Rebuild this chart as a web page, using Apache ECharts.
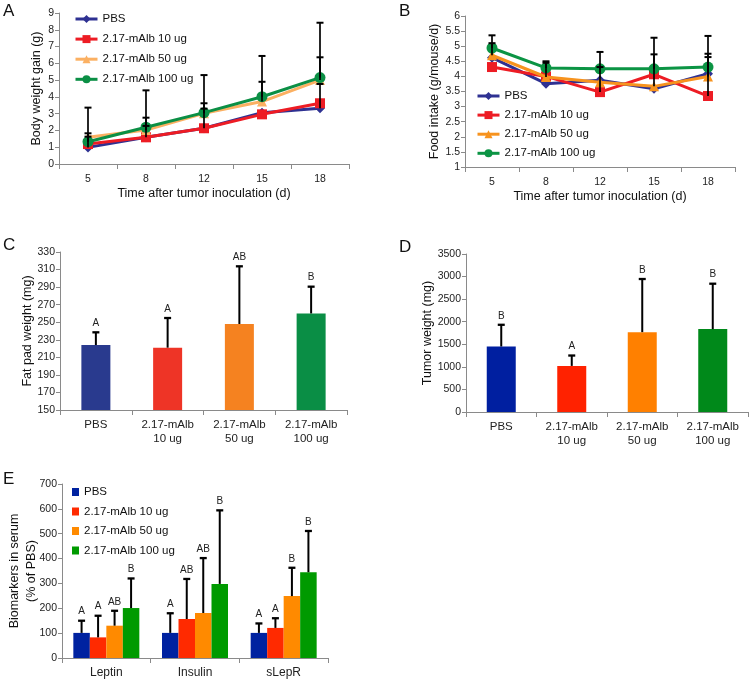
<!DOCTYPE html>
<html>
<head>
<meta charset="utf-8">
<script src="https://cdn.jsdelivr.net/npm/echarts@6/dist/echarts.min.js"></script>
<style>
html,body{margin:0;padding:0;background:#fff;}
#chart{width:751px;height:682px;}
</style>
</head>
<body>
<div id="chart"></div>
<script>
// ---------- data ----------
const days = ['5', '8', '12', '15', '18'];
const groupNames = ['PBS', '2.17-mAlb 10 ug', '2.17-mAlb 50 ug', '2.17-mAlb 100 ug'];
const barCats = ['PBS', '2.17-mAlb\n10 ug', '2.17-mAlb\n50 ug', '2.17-mAlb\n100 ug'];

// Panel A: body weight gain (g)
const gainPBS = [0.99, 1.59, 2.13, 3.06, 3.32];
const gain10 = [1.19, 1.59, 2.13, 2.96, 3.62];
const gain50 = [1.59, 2.03, 3.02, 3.72, 5.0];
const gain100 = [1.33, 2.19, 3.06, 4.01, 5.15];
const gainUpPBS = [1.63, 2.27, 3.3, null, 4.77];
const gainUp50 = [1.83, 2.76, 3.62, 4.9, 6.36];
const gainUp100 = [3.36, 4.39, 5.3, 6.44, 8.42];

// Panel B: food intake (g/mouse/d)
const foodPBS = [4.62, 3.76, 3.87, 3.59, 4.09];
const food10 = [4.31, 4.0, 3.48, 4.07, 3.35];
const food50 = [4.7, 3.98, 3.81, 3.67, 4.0];
const food100 = [4.94, 4.28, 4.25, 4.25, 4.31];
const foodUp10 = [null, null, 4.31, null, 4.64];
const foodUp50 = [5.1, 4.45, null, 4.73, 4.75];
const foodUp100 = [5.36, 4.5, 4.81, 5.28, 5.34];

// Panel C: fat pad weight (mg)
const fatMean = [224, 221, 248, 260];
const fatUp = [238.5, 254.8, 313.7, 290.5];
const fatLetters = ['A', 'A', 'AB', 'B'];

// Panel D: tumor weight (mg)
const tumorMean = [1451, 1021, 1769, 1836];
const tumorUp = [1932, 1251, 2946, 2842];
const tumorLetters = ['B', 'A', 'B', 'B'];

// Panel E: biomarkers (% of PBS)
const markers = ['Leptin', 'Insulin', 'sLepR'];
const bioPBS = [101, 101, 101];
const bio10 = [83, 157, 121];
const bio50 = [130, 181, 249];
const bio100 = [201, 298, 345];
const bioUpPBS = [150, 180, 139];
const bioUp10 = [170, 318, 160];
const bioUp50 = [190, 402, 363];
const bioUp100 = [320, 594, 511];
const bioLetPBS = ['A', 'A', 'A'];
const bioLet10 = ['A', 'AB', 'A'];
const bioLet50 = ['AB', 'AB', 'B'];
const bioLet100 = ['B', 'B', 'B'];

// ---------- styles ----------
const FONT = '"Liberation Sans", Arial, Helvetica, sans-serif';
const colA = ['#2E3192', '#ED1C24', '#FBB062', '#0B8F45'];
const colB = ['#2E3192', '#ED1C24', '#F7931E', '#0B9444'];
const colC = ['#293A8E', '#EE3426', '#F58220', '#0A8E45'];
const colD = ['#001FA0', '#FF2200', '#FF8000', '#00891A'];
const colE = ['#0022A0', '#FF2A00', '#FF8A00', '#009A00'];
const symbols = ['diamond', 'rect', 'triangle', 'circle'];
const symSizes = [10, 10, 10, 11];

const axisLineStyle = {lineStyle: {color: '#8a8a8a', width: 1}};
const tickStyle = {show: true, length: 4, lineStyle: {color: '#8a8a8a'}};
const tickLabel = {color: '#222', fontSize: 10.5, fontFamily: FONT, formatter: v => String(v)};
const nameStyle = {color: '#111', fontSize: 12.5, fontFamily: FONT};

function catAxis(gridIndex, data, labelSize, name, extra) {
  return Object.assign({
    type: 'category', gridIndex, data, boundaryGap: true,
    axisLine: axisLineStyle,
    axisTick: Object.assign({}, tickStyle, {length: 5, alignWithLabel: false}),
    axisLabel: {color: '#222', fontSize: labelSize, fontFamily: FONT, margin: 8, lineHeight: 14, interval: 0},
    splitLine: {show: false},
    name: name || '', nameLocation: 'middle', nameGap: 22, nameTextStyle: nameStyle
  }, extra || {});
}
function valAxis(gridIndex, min, max, interval, name, nameGap, extra) {
  return Object.assign({
    type: 'value', gridIndex, min, max, interval,
    axisLine: Object.assign({show: true}, axisLineStyle),
    axisTick: tickStyle,
    axisLabel: Object.assign({margin: 5}, tickLabel),
    splitLine: {show: false},
    name, nameLocation: 'middle', nameGap, nameTextStyle: nameStyle
  }, extra || {});
}

function lineSeries(name, data, i, axisIdx, colors) {
  return {
    type: 'line', name, data, xAxisIndex: axisIdx, yAxisIndex: axisIdx,
    symbol: symbols[i], symbolSize: symSizes[i], showSymbol: true,
    lineStyle: {color: colors[i], width: 3},
    itemStyle: {color: colors[i]},
    z: 2 + i, silent: true, animation: false
  };
}

function errSeries(axisIdx, means, uppers, letters, offset, cap, lw, letterSize) {
  const data = [];
  means.forEach((m, i) => { if (uppers[i] != null) data.push([i, m, uppers[i]]); });
  return {
    type: 'custom', xAxisIndex: axisIdx, yAxisIndex: axisIdx, silent: true, animation: false, z: 10,
    encode: {x: 0, y: [1, 2]},
    data,
    renderItem: function (params, api) {
      const i = api.value(0);
      const b = api.coord([i, api.value(1)]);
      const t = api.coord([i, api.value(2)]);
      const x = b[0] + offset;
      const children = [
        {type: 'line', shape: {x1: x, y1: b[1], x2: x, y2: t[1]}, style: {stroke: '#000', lineWidth: lw}},
        {type: 'line', shape: {x1: x - cap, y1: t[1], x2: x + cap, y2: t[1]}, style: {stroke: '#000', lineWidth: lw + 0.3}}
      ];
      if (letters) {
        children.push({type: 'text', x: x, y: t[1] - 4,
          style: {text: letters[i], fill: '#222', font: letterSize + 'px ' + FONT, align: 'center', verticalAlign: 'bottom'}});
      }
      return {type: 'group', children};
    }
  };
}

function barSeries(name, data, color, axisIdx, width, gap) {
  return {
    type: 'bar', name, data, xAxisIndex: axisIdx, yAxisIndex: axisIdx,
    barWidth: width, barGap: gap || '0%',
    itemStyle: {color}, silent: true, animation: false, z: 2
  };
}

function colorBars(vals, cols) {
  return vals.map((v, i) => ({value: v, itemStyle: {color: cols[i]}}));
}

const legendText = {color: '#111', fontSize: 11.5, fontFamily: FONT};

const option = {
  backgroundColor: '#fff',
  animation: false,
  textStyle: {fontFamily: FONT},
  grid: [
    {left: 59, top: 13, width: 290, height: 151},
    {left: 465, top: 16, width: 270, height: 151},
    {left: 60, top: 252, width: 287, height: 158},
    {left: 466, top: 254, width: 282, height: 158},
    {left: 62, top: 484, width: 266, height: 174}
  ],
  xAxis: [
    catAxis(0, days, 10.5, 'Time after tumor inoculation (d)'),
    catAxis(1, days, 10.5, 'Time after tumor inoculation (d)'),
    catAxis(2, barCats, 11.5, ''),
    catAxis(3, barCats, 11.5, ''),
    catAxis(4, markers, 12, '')
  ],
  yAxis: [
    valAxis(0, 0, 9, 1, 'Body weight gain (g)', 16),
    valAxis(1, 1, 6, 0.5, 'Food intake (g/mouse/d)', 22),
    valAxis(2, 150, 330, 20, 'Fat pad weight (mg)', 26),
    valAxis(3, 0, 3500, 500, 'Tumor weight (mg)', 28),
    valAxis(4, 0, 700, 100, 'Biomarkers in serum\n(% of PBS)', 22,
      {nameMoveOverlap: false, nameTextStyle: Object.assign({}, nameStyle, {lineHeight: 17})})
  ],
  legend: [
    {
      orient: 'vertical', left: 74, top: 13, padding: 0, itemWidth: 22, itemHeight: 10, itemGap: 8.1,
      textStyle: legendText, selectedMode: false,
      data: groupNames.map((n, i) => ({name: n, itemStyle: {color: colA[i]}, lineStyle: {color: colA[i], width: 3}}))
    },
    {
      orient: 'vertical', left: 476, top: 90, padding: 0, itemWidth: 22, itemHeight: 10, itemGap: 7.1,
      textStyle: legendText, selectedMode: false,
      data: groupNames.map((n, i) => ({name: n, itemStyle: {color: colB[i]}, lineStyle: {color: colB[i], width: 3}}))
    },
    {
      orient: 'vertical', left: 72, top: 486, padding: 0, itemWidth: 7, itemHeight: 8, itemGap: 7.5,
      textStyle: legendText, selectedMode: false, icon: 'rect',
      data: groupNames.map((n, i) => ({name: n, icon: 'rect', itemStyle: {color: colE[i]}}))
    }
  ],
  graphic: [
    {type: 'text', left: 3, top: 3, style: {text: 'A', font: '17px ' + FONT, fill: '#111'}},
    {type: 'text', left: 399, top: 3, style: {text: 'B', font: '17px ' + FONT, fill: '#111'}},
    {type: 'text', left: 3, top: 237, style: {text: 'C', font: '17px ' + FONT, fill: '#111'}},
    {type: 'text', left: 399, top: 239, style: {text: 'D', font: '17px ' + FONT, fill: '#111'}},
    {type: 'text', left: 3, top: 471, style: {text: 'E', font: '17px ' + FONT, fill: '#111'}}
  ],
  series: [
    // Panel A
    lineSeries(groupNames[0], gainPBS, 0, 0, colA),
    lineSeries(groupNames[1], gain10, 1, 0, colA),
    lineSeries(groupNames[2], gain50, 2, 0, colA),
    lineSeries(groupNames[3], gain100, 3, 0, colA),
    errSeries(0, gainPBS, gainUpPBS, null, 0, 3.5, 1.7, 10),
    errSeries(0, gain50, gainUp50, null, 0, 3.5, 1.7, 10),
    errSeries(0, gain100, gainUp100, null, 0, 3.5, 1.7, 10),
    // Panel B
    lineSeries(groupNames[0], foodPBS, 0, 1, colB),
    lineSeries(groupNames[1], food10, 1, 1, colB),
    lineSeries(groupNames[2], food50, 2, 1, colB),
    lineSeries(groupNames[3], food100, 3, 1, colB),
    errSeries(1, food10, foodUp10, null, 0, 3.5, 1.7, 10),
    errSeries(1, food50, foodUp50, null, 0, 3.5, 1.7, 10),
    errSeries(1, food100, foodUp100, null, 0, 3.5, 1.7, 10),
    // Panel C
    {type: 'bar', xAxisIndex: 2, yAxisIndex: 2, barWidth: 29, data: colorBars(fatMean, colC), silent: true, animation: false},
    errSeries(2, fatMean, fatUp, fatLetters, 0, 3.5, 2, 10),
    // Panel D
    {type: 'bar', xAxisIndex: 3, yAxisIndex: 3, barWidth: 29, data: colorBars(tumorMean, colD), silent: true, animation: false},
    errSeries(3, tumorMean, tumorUp, tumorLetters, 0, 3.5, 2, 10),
    // Panel E
    barSeries(groupNames[0], bioPBS, colE[0], 4, 16.5),
    barSeries(groupNames[1], bio10, colE[1], 4, 16.5),
    barSeries(groupNames[2], bio50, colE[2], 4, 16.5),
    barSeries(groupNames[3], bio100, colE[3], 4, 16.5),
    errSeries(4, bioPBS, bioUpPBS, bioLetPBS, -24.75, 3.5, 2, 10),
    errSeries(4, bio10, bioUp10, bioLet10, -8.25, 3.5, 2, 10),
    errSeries(4, bio50, bioUp50, bioLet50, 8.25, 3.5, 2, 10),
    errSeries(4, bio100, bioUp100, bioLet100, 24.75, 3.5, 2, 10)
  ]
};

const chart = echarts.init(document.getElementById('chart'), null, {renderer: 'canvas'});
chart.setOption(option);
</script>
</body>
</html>
